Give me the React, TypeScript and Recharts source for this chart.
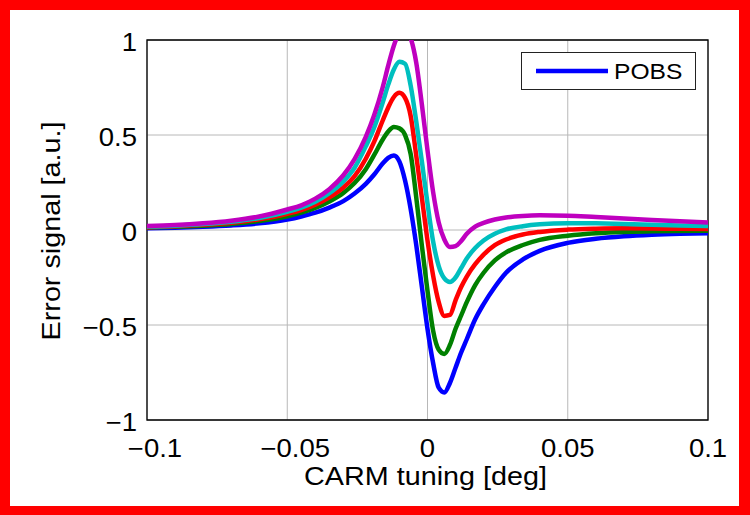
import React from 'react';
import { LineChart, Line, XAxis, YAxis, CartesianGrid, Legend, ReferenceArea, Label } from 'recharts';

const carmTuning = [-0.1, -0.09, -0.08, -0.07, -0.06, -0.05, -0.045, -0.04, -0.035, -0.03, -0.026, -0.022, -0.019, -0.016, -0.014, -0.012, -0.01, -0.008, -0.006, -0.004, -0.002, 0, 0.002, 0.004, 0.006, 0.008, 0.01, 0.012, 0.014, 0.017, 0.02, 0.024, 0.028, 0.034, 0.04, 0.05, 0.06, 0.07, 0.08, 0.09, 0.1];

const errBlue = [0.009, 0.012, 0.017, 0.024, 0.035, 0.055, 0.071, 0.091, 0.118, 0.152, 0.192, 0.243, 0.292, 0.35, 0.38, 0.392, 0.36, 0.26, 0.11, -0.08, -0.3, -0.52, -0.7, -0.83, -0.855, -0.805, -0.725, -0.645, -0.575, -0.47, -0.39, -0.3, -0.225, -0.155, -0.11, -0.068, -0.046, -0.033, -0.025, -0.02, -0.017];

const errGreen = [0.013, 0.017, 0.023, 0.032, 0.047, 0.072, 0.091, 0.116, 0.15, 0.195, 0.247, 0.32, 0.395, 0.475, 0.518, 0.542, 0.535, 0.5, 0.4, 0.17, -0.083, -0.32, -0.53, -0.63, -0.652, -0.605, -0.52, -0.45, -0.38, -0.29, -0.225, -0.16, -0.118, -0.079, -0.052, -0.03, -0.017, -0.01, -0.007, -0.005, -0.004];

const errRed = [0.015, 0.02, 0.027, 0.038, 0.056, 0.085, 0.105, 0.133, 0.172, 0.224, 0.283, 0.375, 0.465, 0.575, 0.645, 0.7, 0.722, 0.695, 0.6, 0.39, 0.17, -0.055, -0.24, -0.38, -0.452, -0.447, -0.37, -0.3, -0.245, -0.18, -0.13, -0.08, -0.05, -0.024, -0.01, 0.002, 0.007, 0.009, 0.008, 0.006, 0.005];

const errCyan = [0.018, 0.023, 0.031, 0.043, 0.063, 0.096, 0.118, 0.149, 0.194, 0.256, 0.328, 0.44, 0.54, 0.67, 0.765, 0.845, 0.885, 0.875, 0.76, 0.57, 0.36, 0.14, -0.06, -0.19, -0.255, -0.274, -0.25, -0.2, -0.15, -0.095, -0.055, -0.02, 0.003, 0.02, 0.03, 0.036, 0.035, 0.032, 0.028, 0.024, 0.021];

const errMagenta = [0.021, 0.026, 0.035, 0.049, 0.071, 0.108, 0.13, 0.165, 0.215, 0.288, 0.373, 0.49, 0.605, 0.75, 0.865, 0.97, 1.04, 1.06, 1.01, 0.88, 0.66, 0.42, 0.2, 0.04, -0.05, -0.09, -0.085, -0.058, -0.02, 0.018, 0.038, 0.055, 0.066, 0.074, 0.077, 0.075, 0.068, 0.061, 0.053, 0.046, 0.04];

const xTicks = [-0.1, -0.05, 0, 0.05, 0.1];
const xTickLabels = ['\u22120.1', '\u22120.05', '0', '0.05', '0.1'];
const yTicks = [-1, -0.5, 0, 0.5, 1];
const yTickLabels = ['\u22121', '\u22120.5', '0', '0.5', '1'];
const xAxisTitle = 'CARM tuning [deg]';
const yAxisTitle = 'Error signal [a.u.]';
const legendLabel = 'POBS';

const data = carmTuning.map((x, i) => ({
  x,
  blue: errBlue[i],
  green: errGreen[i],
  red: errRed[i],
  cyan: errCyan[i],
  magenta: errMagenta[i],
}));

const FONT = '"Liberation Sans", Arial, Helvetica, sans-serif';

const XTick = (props: any) => {
  const { x, y, index } = props;
  const label = xTickLabels[index] ?? String(props.payload?.value);
  const neg = label.startsWith('\u2212');
  return (
    <text
      transform={`translate(${x + (neg ? 8 : 0)},${y + 37}) scale(1.1,1)`}
      textAnchor="middle"
      fontFamily={FONT}
      fontSize={25}
      fill="#000"
    >
      {label}
    </text>
  );
};

const YTick = (props: any) => {
  const { x, y, index } = props;
  const label = yTickLabels[index] ?? String(props.payload?.value);
  return (
    <text
      transform={`translate(${x - 10},${y + 11}) scale(1.1,1)`}
      textAnchor="end"
      fontFamily={FONT}
      fontSize={25}
      fill="#000"
    >
      {label}
    </text>
  );
};

const XTitle = (props: any) => {
  const vb = props.viewBox || { x: 147, y: 420, width: 561, height: 30 };
  return (
    <text
      transform={`translate(${vb.x + vb.width / 2 - 2},${vb.y + 65}) scale(1.15,1)`}
      textAnchor="middle"
      fontFamily={FONT}
      fontSize={25}
      fill="#000"
    >
      {xAxisTitle}
    </text>
  );
};

const YTitle = (props: any) => {
  const vb = props.viewBox || { x: 87, y: 40, width: 60, height: 380 };
  return (
    <text
      transform={`translate(${vb.x - 27},${vb.y + vb.height / 2 + 1}) rotate(-90) scale(1.15,1)`}
      textAnchor="middle"
      fontFamily={FONT}
      fontSize={25}
      fill="#000"
    >
      {yAxisTitle}
    </text>
  );
};

const LegendBox = () => (
  <div
    style={{
      boxSizing: 'border-box',
      width: 175,
      height: 38,
      border: '1.5px solid #222',
      background: '#fff',
      position: 'relative',
    }}
  >
    <svg width={172} height={35} style={{ position: 'absolute', left: 0, top: 0 }}>
      <line x1={14} x2={86} y1={18} y2={18} stroke="#0000ff" strokeWidth={4.5} />
      <text transform="translate(92,26) scale(1.12,1)" fontFamily={FONT} fontSize={22} fill="#000">
        {legendLabel}
      </text>
    </svg>
  </div>
);

export default function App() {
  return (
    <div style={{ position: 'absolute', left: 0, top: 0, width: 750, height: 515 }}>
      <div
        style={{
          position: 'absolute',
          left: 0,
          top: 0,
          width: 750,
          height: 515,
          boxSizing: 'border-box',
          borderStyle: 'solid',
          borderColor: '#ff0000',
          borderWidth: '10px 11px 9px 10px',
          background: '#fff',
        }}
      />
      <div style={{ position: 'absolute', left: 0, top: 0 }}>
        <LineChart
          width={750}
          height={515}
          data={data}
          margin={{ top: 40, right: 42, bottom: 65, left: 87 }}
        >
          <CartesianGrid stroke="#b8b8b8" strokeWidth={1} />
          <XAxis
            dataKey="x"
            type="number"
            domain={[-0.1, 0.1]}
            ticks={xTicks}
            tick={XTick}
            tickLine={false}
            axisLine={false}
            tickSize={0}
            tickMargin={0}
            height={30}
            interval={0}
          >
            <Label content={XTitle} />
          </XAxis>
          <YAxis
            type="number"
            domain={[-1, 1]}
            ticks={yTicks}
            tick={YTick}
            tickLine={false}
            axisLine={false}
            tickSize={0}
            tickMargin={0}
            width={60}
            interval={0}
            allowDataOverflow
          >
            <Label content={YTitle} />
          </YAxis>
          <Line type="monotone" dataKey="blue" name={legendLabel} stroke="#0000ff" strokeWidth={4.5} dot={false} isAnimationActive={false} />
          <Line type="monotone" dataKey="green" stroke="#008000" strokeWidth={4.5} dot={false} isAnimationActive={false} legendType="none" />
          <Line type="monotone" dataKey="red" stroke="#ff0000" strokeWidth={4.5} dot={false} isAnimationActive={false} legendType="none" />
          <Line type="monotone" dataKey="cyan" stroke="#00bfbf" strokeWidth={4.5} dot={false} isAnimationActive={false} legendType="none" />
          <Line type="monotone" dataKey="magenta" stroke="#bf00bf" strokeWidth={4.5} dot={false} isAnimationActive={false} legendType="none" />
          <ReferenceArea x1={-0.1} x2={0.1} y1={-1} y2={1} fill="none" fillOpacity={0} stroke="#000" strokeWidth={1.3} />
          <Legend
            layout="vertical"
            align="center"
            verticalAlign="middle"
            wrapperStyle={{ left: 521, top: 52, width: 175, height: 38 }}
            content={LegendBox}
          />
        </LineChart>
      </div>
    </div>
  );
}
